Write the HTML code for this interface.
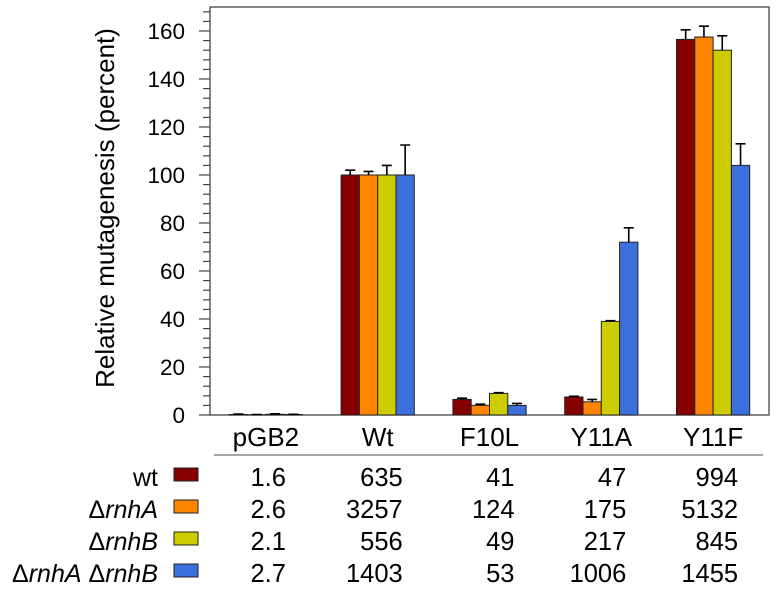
<!DOCTYPE html>
<html><head><meta charset="utf-8"><style>
body{margin:0;background:#fff;}
svg{display:block;font-family:"Liberation Sans",Arial,sans-serif;}
</style></head><body>
<svg id="chart" width="776" height="596"></svg>
<script>
const categories=["pGB2","Wt","F10L","Y11A","Y11F"];
const seriesNames=["wt","ΔrnhA","ΔrnhB","ΔrnhA ΔrnhB"];
const valsWt=[0.2,100,6.5,7.5,156.5];
const valsRnhA=[0.1,100,4,5.5,157.5];
const valsRnhB=[0.3,100,9,39,152];
const valsBoth=[0.2,100,4,72,104];
const errWt=[0.2,2,0.5,0.3,4];
const errRnhA=[0.1,1.5,0.5,1,4.5];
const errRnhB=[0.2,4,0.3,0.3,6];
const errBoth=[0.1,12.5,0.8,6,9];
const tableWt=["1.6","635","41","47","994"];
const tableRnhA=["2.6","3257","124","175","5132"];
const tableRnhB=["2.1","556","49","217","845"];
const tableBoth=["2.7","1403","53","1006","1455"];
const yTicks=[0,20,40,60,80,100,120,140,160];

const colors=["#870000","#ff8500","#cccc00","#3a6fdc"];
const series=[valsWt,valsRnhA,valsRnhB,valsBoth];
const errs=[errWt,errRnhA,errRnhB,errBoth];
const tables=[tableWt,tableRnhA,tableRnhB,tableBoth];
const NS="http://www.w3.org/2000/svg";
const svg=document.getElementById('chart');
const X0=210,X1=769,Y0=415,YT=7,YMAX=170;
const y=v=>Y0-(v/YMAX)*(Y0-YT);
const gw=(X1-X0)/categories.length;
const gc=i=>X0+gw*(i+0.5);
const bw=18.3;
function mk(t,a,p){const e=document.createElementNS(NS,t);for(const k in a)e.setAttribute(k,a[k]);(p||svg).appendChild(e);return e;}

let f=mk('rect',{x:X0,y:YT,width:X1-X0,height:Y0-YT,fill:'none',stroke:'#444','stroke-width':1.3});


for(let v=0;v<=YMAX;v+=4){
  const t=mk('line',{x1:(v%20===0)?199:203,x2:X0,y1:y(v),y2:y(v),stroke:'#444','stroke-width':1.2});
  
  
}
yTicks.forEach(v=>{
  const t=mk('text',{x:185,y:y(v)+8,'text-anchor':'end','font-size':22.5,fill:'#000'});
  t.textContent=v;
  
  
});
const yt=mk('text',{x:0,y:0,transform:'translate(114,208) rotate(-90)','text-anchor':'middle','font-size':26,fill:'#000'});
yt.textContent='Relative mutagenesis (percent)';



categories.forEach((c,i)=>{
  series.forEach((s,j)=>{
    const bx=gc(i)-2*bw+j*bw;
    const b=mk('rect',{x:bx,y:y(s[i]),width:bw,height:Y0-y(s[i]),fill:colors[j],stroke:'#222','stroke-width':1});
    
    
    const cx=bx+bw/2,top=y(s[i]+errs[j][i]);
    const e=mk('path',{d:`M${cx},${y(s[i])}V${top}M${cx-5},${top}H${cx+5}`,stroke:'#000','stroke-width':1.6,fill:'none'});
    
    
  });
  const l=mk('text',{x:gc(i),y:446,'text-anchor':'middle','font-size':26,fill:'#000'});
  l.textContent=c;
  
  
});
const hl=mk('line',{x1:214,x2:763,y1:455,y2:455,stroke:'#888','stroke-width':1.5});



const rowY=[486,518,550,582];
seriesNames.forEach((n,j)=>{
  const lt=mk('text',{x:158,y:rowY[j],'text-anchor':'end','font-size':25,fill:'#000'});
  if(j===0){lt.textContent='wt';}
  else{
    const parts=n.split(' ');
    parts.forEach((p,k)=>{
      const a=mk('tspan',{},lt);a.textContent=(k>0?' ':'')+'Δ';
      const b2=mk('tspan',{'font-style':'italic'},lt);b2.textContent=p.slice(1);
    });
  }
  
  
  const sw=mk('rect',{x:174,y:rowY[j]-18,width:24,height:13,fill:colors[j],stroke:'#222','stroke-width':1});
  
  
  tables[j].forEach((v,i)=>{
    const t=mk('text',{x:gc(i)+(i===0?20:25),y:rowY[j],'text-anchor':'end','font-size':25.5,fill:'#000'});
    t.textContent=v;
    
    
  });
});
</script>
</body></html>
